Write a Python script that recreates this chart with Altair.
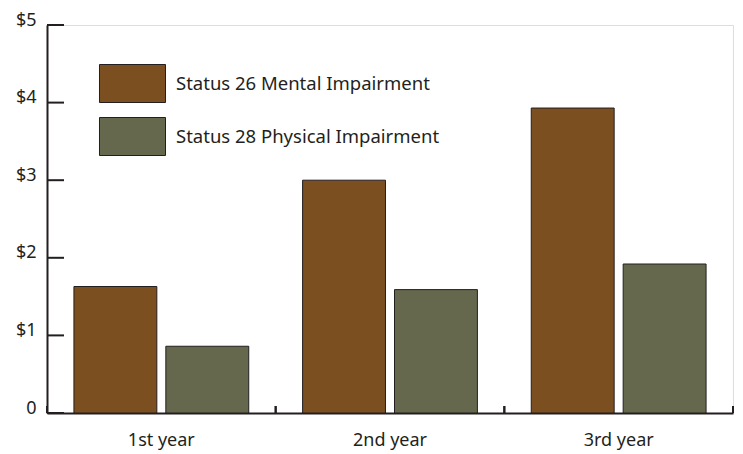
import altair as alt
import pandas as pd

years = ["1st year", "2nd year", "3rd year"]
series = ["Status 26 Mental Impairment", "Status 28 Physical Impairment"]
mental = [1.63, 3.0, 3.93]
physical = [0.86, 1.59, 1.92]
colors = ["#7B4F1F", "#66684D"]
y_ticks = [0, 1, 2, 3, 4, 5]

rows = []
for i, yr in enumerate(years):
    rows.append({"year": yr, "series": series[0], "value": mental[i]})
    rows.append({"year": yr, "series": series[1], "value": physical[i]})
df = pd.DataFrame(rows)
yt = pd.DataFrame({"v": y_ticks})
yr_df = pd.DataFrame({"year": years})

INK = "#231f20"
FONT = "Noto Sans"
W, H = 686, 388

bars = alt.Chart(df).mark_bar(stroke=INK, strokeWidth=1).encode(
    x=alt.X("year:N", sort=years,
            scale=alt.Scale(paddingInner=0, paddingOuter=0),
            axis=alt.Axis(title=None, ticks=False, labelAngle=0, labelFontSize=18,
                          labelFont=FONT, labelColor=INK, labelPadding=18,
                          domainColor=INK, domainWidth=2)),
    xOffset=alt.XOffset("series:N", sort=series,
                        scale=alt.Scale(paddingInner=0.098, paddingOuter=0.293)),
    y=alt.Y("value:Q", scale=alt.Scale(domain=[0, 5], nice=False),
            axis=alt.Axis(title=None, values=y_ticks, ticks=False, grid=False,
                          labelExpr="datum.value == 0 ? '0' : '$' + datum.value",
                          labelFontSize=18, labelFont=FONT, labelColor=INK,
                          labelPadding=11, labelBaseline="alphabetic",
                          domainColor=INK, domainWidth=2)),
    color=alt.Color("series:N", sort=series,
                    scale=alt.Scale(domain=series, range=colors),
                    legend=alt.Legend(title=None, orient="none", legendX=66, legendY=39,
                                      symbolType="M-1.737,-1L1.737,-1L1.737,1L-1.737,1Z",
                                      symbolSize=1444, symbolStrokeColor=INK,
                                      symbolStrokeWidth=1, symbolOpacity=1,
                                      labelFontSize=18.5, labelFont=FONT, labelColor=INK,
                                      labelLimit=0, rowPadding=10, labelOffset=24)),
)

ytick_rules = alt.Chart(yt).mark_rule(color=INK, strokeWidth=2).encode(
    y=alt.Y("v:Q"),
    x=alt.value(0),
    x2=alt.value(17),
)

xtick_left = alt.Chart(yr_df).mark_rule(color=INK, strokeWidth=2).encode(
    x=alt.X("year:N", sort=years, bandPosition=0),
    y=alt.value(H),
    y2=alt.value(H - 7),
)
xtick_right = alt.Chart(yr_df).mark_rule(color=INK, strokeWidth=2).encode(
    x=alt.X("year:N", sort=years, bandPosition=1),
    y=alt.value(H),
    y2=alt.value(H - 7),
)

chart = alt.layer(bars, ytick_rules, xtick_left, xtick_right).properties(
    width=W, height=H,
    autosize=alt.AutoSizeParams(type="none"),
    padding={"left": 39, "top": 17, "right": 2, "bottom": 37},
).configure_view(stroke=None).configure(background="white")

chart.save("out.html", embed_options={"renderer": "svg", "actions": False})
